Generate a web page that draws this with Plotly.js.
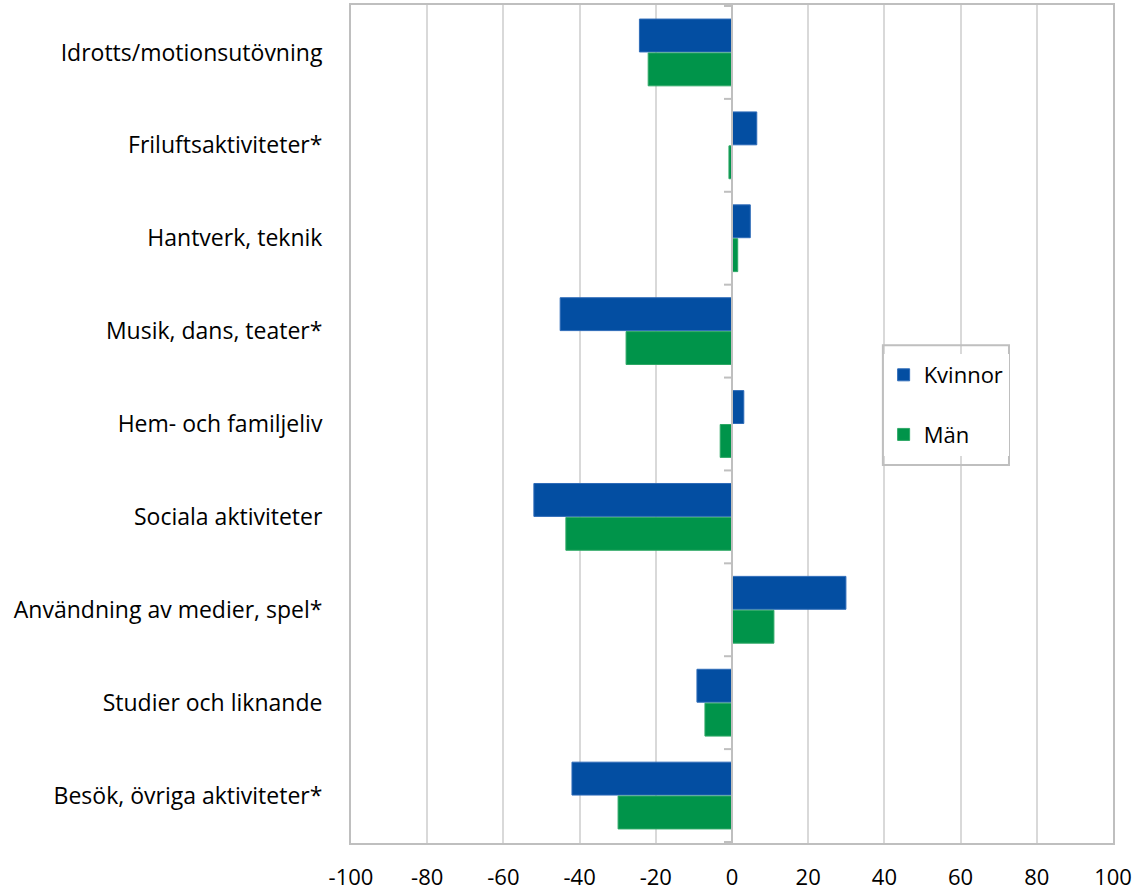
<!DOCTYPE html>
<html><head><meta charset="utf-8">
<script src="https://cdn.plot.ly/plotly-3.0.1.min.js"></script>
<style>html,body{margin:0;padding:0;background:#fff}#chart{width:1135px;height:890px}</style>
</head><body><div id="chart"></div>
<script>
const categories = ["Idrotts/motionsutövning","Friluftsaktiviteter*","Hantverk, teknik","Musik, dans, teater*","Hem- och familjeliv","Sociala aktiviteter","Användning av medier, spel*","Studier och liknande","Besök, övriga aktiviteter*"];
const kvinnor = [-24.3, 6.5, 4.8, -45.1, 3.1, -52.0, 29.9, -9.2, -42.0];
const man = [-22.0, -0.8, 1.5, -27.8, -3.1, -43.6, 11.0, -7.1, -29.9];
const xTicks = [-100,-80,-60,-40,-20,0,20,40,60,80,100];

const labelFont = {family: "Open Sans, sans-serif", size: 23, color: "#000"};
const tickFont = {family: "Open Sans, sans-serif", size: 22, color: "#000"};
const traces = [
  {type:"bar", orientation:"h", name:"Kvinnor", y:categories, x:kvinnor, legendgroup:"k",
   marker:{color:"#034EA2", line:{color:"#2E6BB8", width:1}}},
  {type:"bar", orientation:"h", name:"Män", y:categories, x:man, legendgroup:"m",
   marker:{color:"#00944A", line:{color:"#2EA866", width:1}}}
];
const shapes = [
  {type:"line", xref:"x", yref:"paper", x0:0, x1:0, y0:0, y1:1, line:{color:"#BFBFBF", width:2}},
  {type:"rect", xref:"paper", yref:"paper", x0:0.698, x1:0.8635, y0:0.451, y1:0.594, layer:"above",
   line:{color:"#BFBFBF", width:2}, fillcolor:"rgba(0,0,0,0)"}
];
for (let i = 0; i <= categories.length; i++) {
  shapes.push({type:"line", xref:"x", yref:"y", xsizemode:"pixel", xanchor:0, x0:-8, x1:0,
    y0:i-0.5, y1:i-0.5, line:{color:"#BFBFBF", width:2}});
}
const layout = {
  width:1135, height:890,
  margin:{l:351, r:22, t:5, b:47},
  paper_bgcolor:"#fff", plot_bgcolor:"#fff",
  font: labelFont,
  barmode:"group", bargap:0.27, bargroupgap:0.03,
  xaxis:{range:[-100,100], tickvals:xTicks, ticktext:xTicks.map(String), showgrid:true, gridcolor:"#D9D9D9", gridwidth:2,
    zeroline:false, showline:true, linecolor:"#BFBFBF", linewidth:2, mirror:true, ticks:"", ticklabelstandoff:14,
    tickfont:tickFont, fixedrange:true},
  yaxis:{type:"category", autorange:"reversed", showgrid:false, zeroline:false, showline:true, linecolor:"#BFBFBF",
    linewidth:2, mirror:true, ticks:"", ticklabelstandoff:22, tickfont:labelFont},
  showlegend:true,
  legend:{x:0.699, y:0.5835, xanchor:"left", yanchor:"top", bgcolor:"#fff", borderwidth:0,
    traceorder:"grouped", tracegroupgap:28, font:tickFont, itemwidth:30},
  shapes: shapes
};
Plotly.newPlot("chart", traces, layout, {displayModeBar:false, staticPlot:true});
</script></body></html>
